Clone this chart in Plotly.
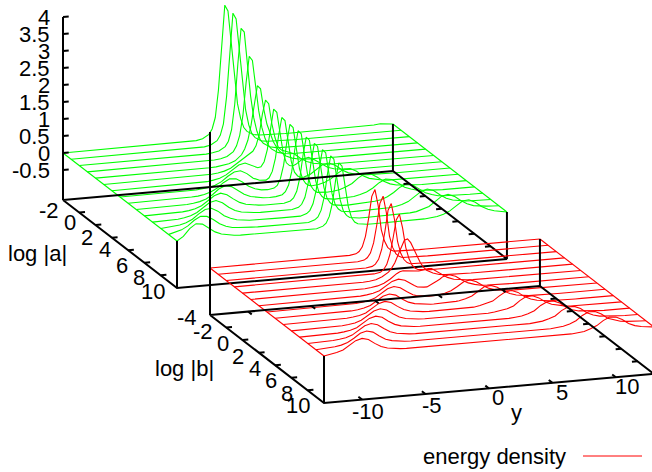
import plotly.graph_objects as go

y_grid = [-13, -12.5, -12, -11.5, -11, -10.5, -10, -9.5, -9, -8.5, -8, -7.5, -7, -6.5, -6, -5.5, -5, -4.5, -4, -3.5, -3, -2.5, -2, -1.5,
          -1.25, -1, -0.75, -0.5, -0.25, 0, 0.25, 0.5, 0.75, 1, 1.25,
          1.5, 2, 2.5, 3, 3.5, 4, 4.5, 5, 5.5, 6, 6.5, 7, 7.5, 8, 8.5, 9, 9.5, 10, 10.5, 11, 11.5, 12, 12.5, 13]

a_values = [-2, -1, 0, 1, 2, 3, 4, 5, 6, 7, 8, 9, 10, 11, 12]
energy_a = [
 [0,0,0,0,0,0,0,0,0,0,0,0,0,0,0,0,0,0,0,.01,.01,.02,.06,.17, .32,.65,1.45,2.85,3.93,3.75,2.8,1.8,1,.55,.28, .16,.05,.02,.01,0,0,0,0,0,0,0,0,0,0,0,0,0,0,0,0,.02,.04,.03,0],
 [0,0,0,0,0,0,0,0,0,0,0,0,0,0,0,0,0,0,0,.01,.01,.02,.06,.17, .32,.65,1.45,2.8,3.88,3.7,2.75,1.75,1,.55,.28, .16,.05,.02,.01,0,0,0,0,0,0,0,0,0,0,0,0,0,0,0,0,0,0,0,0],
 [0,0,0,0,0,0,0,0,0,0,0,0,0,0,0,0,0,0,0,.01,.01,.03,.07,.18, .33,.66,1.4,2.6,3.62,3.5,2.5,1.6,.95,.55,.3, .18,.06,.02,.01,0,0,0,0,0,0,0,0,0,0,0,0,0,0,0,0,0,0,0,0],
 [0,0,0,0,0,0,0,0,0,0,0,0,0,0,0,0,0,0,.01,.01,.02,.04,.09,.22, .38,.68,1.25,2.2,2.98,2.85,2.05,1.35,.85,.52,.32, .2,.08,.03,.01,.01,0,0,0,0,0,0,0,0,0,0,0,0,0,0,0,0,0,0,0],
 [0,0,0,0,0,0,0,0,0,0,0,0,0,0,0,0,0,.01,.01,.02,.04,.08,.15,.31, .47,.72,1.15,1.8,2.3,2.2,1.6,1.15,.85,.62,.45, .32,.16,.08,.04,.02,.01,.01,0,0,0,0,0,0,0,0,0,0,0,0,0,0,0,0,0],
 [0,0,0,0,0,0,0,0,0,0,0,0,0,0,0,.01,.01,.02,.04,.08,.15,.27,.41,.53, .59,.74,1.06,1.65,2.06,1.95,1.35,.93,.65,.55,.51, .49,.41,.26,.15,.08,.04,.02,.01,.01,0,0,0,0,0,0,0,0,0,0,0,0,0,0,0],
 [0,0,0,0,0,0,0,0,0,0,0,0,.01,.01,.01,.02,.05,.09,.17,.3,.43,.47,.39,.3, .32,.46,.81,1.45,1.98,1.88,1.24,.67,.37,.28,.26, .3,.43,.47,.38,.25,.13,.07,.04,.02,.01,.01,0,0,0,0,0,0,0,0,0,0,0,0,0],
 [0,0,0,0,0,0,0,0,0,0,.01,.01,.01,.03,.05,.1,.19,.33,.44,.46,.36,.21,.13,.12, .18,.36,.74,1.4,1.92,1.82,1.17,.6,.28,.16,.11, .11,.18,.32,.44,.46,.37,.22,.12,.07,.03,.02,.01,0,0,0,0,0,0,0,0,0,0,0,0],
 [0,0,0,0,0,0,0,0,.01,.01,.02,.03,.06,.12,.21,.36,.46,.44,.33,.19,.1,.05,.04,.07, .14,.33,.72,1.38,1.9,1.8,1.15,.58,.26,.12,.06, .04,.06,.11,.2,.34,.45,.45,.35,.2,.11,.06,.03,.01,.01,0,0,0,0,0,0,0,0,0,0],
 [0,0,0,0,0,0,.01,.01,.02,.04,.07,.13,.24,.39,.47,.43,.3,.17,.09,.05,.02,.01,.02,.06, .14,.33,.72,1.38,1.9,1.8,1.15,.58,.25,.11,.04, .03,.02,.03,.06,.12,.21,.36,.46,.44,.33,.19,.1,.05,.03,.01,.01,0,0,0,0,0,0,0,0],
 [0,0,0,0,.01,.01,.02,.04,.08,.15,.27,.41,.47,.41,.27,.15,.08,.04,.02,.01,.01,0,.01,.06, .14,.33,.72,1.38,1.9,1.8,1.15,.58,.25,.11,.04, .02,0,.01,.02,.03,.07,.13,.23,.37,.46,.43,.31,.17,.1,.05,.03,.01,.01,0,0,0,0,0,0],
 [0,0,.01,.01,.02,.05,.09,.17,.3,.43,.47,.39,.24,.13,.07,.04,.02,.01,.01,0,0,0,.01,.06, .14,.33,.72,1.38,1.9,1.8,1.15,.58,.25,.11,.04, .02,0,0,.01,.01,.02,.04,.07,.14,.25,.39,.47,.42,.29,.16,.09,.04,.02,.01,.01,0,0,0,0],
 [0,.01,.03,.05,.1,.19,.33,.44,.46,.36,.21,.12,.06,.03,.01,.01,0,0,0,0,0,0,0,.06, .14,.33,.72,1.38,1.9,1.8,1.15,.58,.25,.11,.04, .02,0,0,0,0,.01,.01,.02,.04,.08,.15,.27,.41,.47,.41,.27,.15,.08,.04,.02,.01,0,0,0],
 [.01,.05,.11,.21,.36,.46,.44,.33,.19,.1,.05,.03,.01,.01,0,0,0,0,0,0,0,0,0,.06, .14,.33,.72,1.38,1.9,1.8,1.15,.58,.25,.11,.04, .02,0,0,0,0,0,0,.01,.01,.02,.04,.09,.16,.29,.43,.47,.39,.25,.14,.07,.04,.02,.01,0],
 [0,.12,.33,.46,.43,.3,.17,.09,.05,.02,.01,.01,0,0,0,0,0,0,0,0,0,0,0,.06, .14,.33,.72,1.38,1.88,1.78,1.14,.57,.24,.1,.04, .02,0,0,0,0,0,0,0,0,.01,.01,.03,.05,.1,.18,.31,.44,.46,.37,.23,.13,.07,.03,0],
]

b_values = [-4, -3, -2, -1, 0, 1, 2, 3, 4, 5, 6, 7, 8, 9, 10]
energy_b = [
 [0,0,0,0,0,0,0,0,0,0,0,0,0,0,0,0,0,0,0,0,0,0,.01,.04, .1,.23,.53,1.05,1.69,1.88,1.41,.68,.34,.15,.06, .02,.01,0,0,0,0,0,0,0,0,0,0,0,0,0,0,0,0,0,0,0,0,0,0],
 [0,0,0,0,0,0,0,0,0,0,0,0,0,0,0,0,0,0,0,0,0,0,.01,.04, .1,.23,.52,1.04,1.67,1.87,1.39,.68,.34,.15,.06, .02,.01,0,0,0,0,0,0,0,0,0,0,0,0,0,0,0,0,0,0,0,0,0,0],
 [0,0,0,0,0,0,0,0,0,0,0,0,0,0,0,0,0,0,0,0,0,0,.01,.04, .1,.23,.52,1.03,1.65,1.84,1.37,.7,.35,.16,.06, .02,.01,0,0,0,0,0,0,0,0,0,0,0,0,0,0,0,0,0,0,0,0,0,0],
 [0,0,0,0,0,0,0,0,0,0,0,0,0,0,0,0,0,0,0,0,0,0,.02,.05, .12,.26,.55,1.02,1.55,1.71,1.3,.72,.38,.18,.08, .03,.01,0,0,0,0,0,0,0,0,0,0,0,0,0,0,0,0,0,0,0,0,0,0],
 [0,0,0,0,0,0,0,0,0,0,0,0,0,0,0,0,0,0,.01,.01,.02,.05,.12,.24, .35,.5,.72,.95,1.14,1.17,1.05,.85,.62,.44,.3, .2,.1,.04,.02,.01,0,0,0,0,0,0,0,0,0,0,0,0,0,0,0,0,0,0,0],
 [0,0,0,0,0,0,0,0,0,0,0,0,0,0,0,0,.01,.01,.02,.04,.07,.13,.24,.38, .43,.45,.44,.42,.4,.39,.4,.42,.44,.45,.44, .38,.25,.14,.07,.04,.02,.01,.01,0,0,0,0,0,0,0,0,0,0,0,0,0,0,0,0],
 [0,0,0,0,0,0,0,0,0,0,0,0,0,0,.01,.01,.02,.04,.07,.13,.24,.37,.42,.37, .31,.24,.19,.14,.12,.12,.12,.16,.2,.26,.31, .38,.42,.36,.23,.13,.07,.03,.02,.01,.01,0,0,0,0,0,0,0,0,0,0,0,0,0,0],
 [0,0,0,0,0,0,0,0,0,0,0,0,.01,.01,.02,.04,.07,.13,.24,.37,.42,.37,.24,.13, .1,.08,.06,.06,.05,.04,.05,.06,.07,.09,.12, .15,.26,.38,.42,.35,.22,.12,.06,.03,.02,.01,.01,0,0,0,0,0,0,0,0,0,0,0,0],
 [0,0,0,0,0,0,0,0,0,0,.01,.01,.02,.04,.07,.13,.24,.37,.42,.37,.24,.13,.07,.04, .03,.02,.01,.01,.01,.01,.01,.01,.02,.02,.03, .04,.08,.15,.27,.39,.41,.34,.21,.12,.06,.03,.01,.01,0,0,0,0,0,0,0,0,0,0,0],
 [0,0,0,0,0,0,0,0,.01,.01,.02,.04,.07,.13,.24,.37,.42,.37,.24,.13,.07,.04,.02,.01, .01,.01,0,0,0,0,0,0,0,.01,.01, .01,.02,.05,.09,.15,.28,.39,.41,.34,.2,.11,.06,.03,.01,.01,0,0,0,0,0,0,0,0,0],
 [0,0,0,0,0,0,.01,.01,.02,.04,.07,.13,.24,.37,.42,.37,.24,.13,.07,.04,.02,.01,.01,0, 0,0,0,0,0,0,0,0,0,0,0, 0,.01,.01,.03,.05,.09,.16,.3,.4,.41,.33,.2,.11,.06,.03,.01,.01,0,0,0,0,0,0,0],
 [0,0,0,0,.01,.01,.02,.04,.07,.13,.24,.37,.42,.37,.24,.13,.07,.04,.02,.01,.01,0,0,0, 0,0,0,0,0,0,0,0,0,0,0, 0,0,0,.01,.01,.03,.05,.1,.17,.31,.4,.41,.33,.19,.1,.05,.03,.01,.01,0,0,0,0,0],
 [0,0,.01,.01,.02,.04,.07,.13,.24,.37,.42,.37,.24,.13,.07,.04,.02,.01,.01,0,0,0,0,0, 0,0,0,0,0,0,0,0,0,0,0, 0,0,0,0,0,.01,.01,.03,.05,.1,.17,.31,.4,.4,.32,.18,.1,.05,.03,.01,.01,0,0,0],
 [0,.01,.02,.04,.07,.13,.24,.37,.42,.37,.24,.13,.07,.04,.02,.01,.01,0,0,0,0,0,0,0, 0,0,0,0,0,0,0,0,0,0,0, 0,0,0,0,0,0,0,.01,.01,.03,.05,.1,.18,.32,.41,.4,.31,.17,.1,.05,.03,.01,.01,0],
 [0,.03,.07,.13,.24,.37,.42,.37,.24,.13,.07,.04,.02,.01,.01,0,0,0,0,0,0,0,0,0, 0,0,0,0,0,0,0,0,0,0,0, 0,0,0,0,0,0,0,0,0,.01,.01,.03,.05,.11,.19,.32,.41,.39,.3,.17,.09,.05,.02,0],
]

z_tick_labels = ["-0.5", "0", "0.5", "1", "1.5", "2", "2.5", "3", "3.5", "4"]
z_tick_values = [-0.5, 0, 0.5, 1, 1.5, 2, 2.5, 3, 3.5, 4]
a_tick_values = [-2, 0, 2, 4, 6, 8, 10]
b_tick_values = [-4, -2, 0, 2, 4, 6, 8, 10]
y_tick_values = [-10, -5, 0, 5, 10]

# label offsets from each tick, in pixels
a_label_dx = [-14, -9, -8.5, -7, -6, -5.5, -7.5]
a_label_dy = [11, 10, 12, 12, 15, 15, 16.5]
b_label_dx = [-23, -23, -20, -21, -20, -20, -20.5, -26]
b_label_dy = [3, 4.5, 3, 3.5, 3, 3, 3, 3]
y_label_dx = [6, 6.5, 9, 9.5, 11]
y_label_dy = [11.5, 11, 9.5, 10, 9.5]

Z_BASE = -1.38
Y_MIN, Y_MAX = -13, 13
NAN = float("nan")


def projector(x0, y0, first):
    def proj(s, y, z):
        return (x0 + (s - first) * 8.143 + (y - Y_MIN) * 12.69,
                y0 + (s - first) * 6.286 - (y - Y_MIN) * 1.115 - z * 34)
    return proj


top = projector(63, 153, -2)
low = projector(210, 268, -4)
fig = go.Figure()


def add_line(pts, color):
    fig.add_trace(go.Scatter(x=[p[0] for p in pts], y=[p[1] for p in pts], mode="lines",
                             line=dict(color=color, width=1.1), hoverinfo="skip", showlegend=False))


def add_curves(proj, values, rows, color):
    for s, row in zip(values, rows):
        add_line([proj(s, y, z) for y, z in zip(y_grid, row)], color)
    add_line([proj(s, Y_MIN, row[0]) for s, row in zip(values, rows)], color)
    add_line([proj(s, Y_MAX, row[-1]) for s, row in zip(values, rows)], color)


def add_frame(proj, s0, s1, s_ticks, with_y_ticks, with_z_ticks):
    segs = []
    c = [(s0, Y_MIN), (s1, Y_MIN), (s1, Y_MAX), (s0, Y_MAX), (s0, Y_MIN)]
    segs.append([proj(s, y, Z_BASE) for s, y in c])
    segs.append([proj(s0, Y_MIN, Z_BASE), proj(s0, Y_MIN, 4)])
    for s, y in c[1:4]:
        segs.append([proj(s, y, Z_BASE), proj(s, y, 0)])
    for s in s_ticks:
        if s0 < s < s1:
            segs.append([proj(s, Y_MIN, Z_BASE), proj(s, Y_MIN + 0.45, Z_BASE)])
            segs.append([proj(s, Y_MAX, Z_BASE), proj(s, Y_MAX - 0.45, Z_BASE)])
    if with_y_ticks:
        for y in y_tick_values:
            segs.append([proj(s1, y, Z_BASE), proj(s1 - 0.45, y, Z_BASE)])
            segs.append([proj(s0, y, Z_BASE), proj(s0 + 0.45, y, Z_BASE)])
    if with_z_ticks:
        for z in z_tick_values:
            segs.append([proj(s0, Y_MIN, z), proj(s0, Y_MIN + 0.45, z)])
    xs, ys = [], []
    for seg in segs:
        xs += [p[0] for p in seg] + [NAN]
        ys += [p[1] for p in seg] + [NAN]
    fig.add_trace(go.Scatter(x=xs, y=ys, mode="lines", line=dict(color="black", width=2),
                             hoverinfo="skip", showlegend=False))


add_curves(top, a_values, energy_a, "#00ff00")
add_frame(top, -2, 12, a_tick_values, False, True)
add_curves(low, b_values, energy_b, "#ff0000")
add_frame(low, -4, 10, b_tick_values, True, False)

FONT = "Liberation Sans, Arial, sans-serif"
notes = []


def label(x, y, text, anchor="center", size=22):
    notes.append(dict(x=x, y=y, xref="x", yref="y", text=text, showarrow=False, xanchor=anchor, yanchor="middle",
                      font=dict(family=FONT, size=size, color="black")))


for z, t in zip(z_tick_values, z_tick_labels):
    px = top(-2, Y_MIN, z)
    label(px[0] - 11, px[1], t, "right")
for s, dx, dy in zip(a_tick_values, a_label_dx, a_label_dy):
    px = top(s, Y_MIN, Z_BASE)
    label(px[0] + dx, px[1] + dy, str(s))
for s, dx, dy in zip(b_tick_values, b_label_dx, b_label_dy):
    px = low(s, Y_MIN, Z_BASE)
    label(px[0] + dx, px[1] + dy, str(s))
for y, dx, dy in zip(y_tick_values, y_label_dx, y_label_dy):
    px = low(10, y, Z_BASE)
    label(px[0] + dx, px[1] + dy, str(y))
label(37, 253, "log |a|")
label(184, 368, "log |b|")
label(516, 412, "y")
label(568, 456, "energy density", "right")

fig.update_layout(
    width=652, height=472, margin=dict(l=0, r=0, t=0, b=0), paper_bgcolor="white", plot_bgcolor="white",
    showlegend=False, annotations=notes,
    xaxis=dict(range=[0, 652], visible=False, fixedrange=True),
    yaxis=dict(range=[472, 0], visible=False, fixedrange=True),
    shapes=[dict(type="line", xref="x", yref="y", x0=583, x1=642, y0=456, y1=456, line=dict(color="#ff0000", width=1))],
)
fig.write_html("out.html", config=dict(displayModeBar=False), post_script="document.body.style.margin='0';")
